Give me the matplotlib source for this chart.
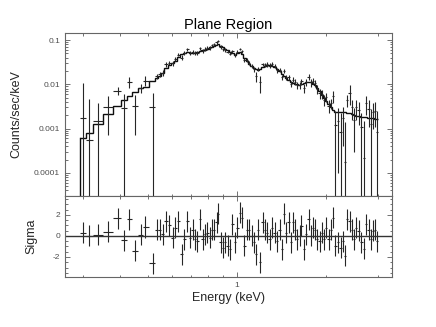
import numpy as np
import matplotlib
matplotlib.use('Agg')
import matplotlib.pyplot as plt
from matplotlib.ticker import FixedLocator, FuncFormatter, MultipleLocator, LogLocator

plt.rcParams['font.family'] = ['Liberation Sans', 'DejaVu Sans']

## channel energies (keV), rate (counts/sec/keV), 1-sigma error, folded model, residual (sigma)
energy = [0.300, 0.315, 0.337, 0.366, 0.394, 0.415, 0.431, 0.452, 0.473, 0.488, 0.518,
          0.534, 0.548, 0.560, 0.574, 0.590, 0.605, 0.616, 0.632, 0.650, 0.663,
          0.678, 0.693, 0.708, 0.721, 0.733, 0.749, 0.765, 0.779, 0.793, 0.810,
          0.825, 0.838, 0.853, 0.864, 0.881, 0.894, 0.911, 0.930, 0.947, 0.964,
          0.984, 1.002, 1.024, 1.037, 1.059, 1.079, 1.098, 1.121, 1.142, 1.160,
          1.181, 1.197, 1.222, 1.244, 1.267,
          1.291, 1.314, 1.342, 1.369, 1.395, 1.420, 1.443, 1.469, 1.497, 1.521,
          1.548, 1.569, 1.601, 1.631, 1.652, 1.687, 1.718, 1.750, 1.777, 1.809,
          1.842, 1.871, 1.907, 1.942, 1.972, 2.007, 2.046, 2.078, 2.115, 2.154,
          2.200, 2.246, 2.287, 2.318, 2.360, 2.410, 2.454, 2.492, 2.538, 2.586,
          2.638, 2.694, 2.744, 2.796, 2.840, 2.891, 2.943, 2.989]

rate = [1.7e-3, 5.5e-4, 1.5e-3, 3.0e-3, 7.2e-3, 2.9e-3, 1.15e-2, 3.2e-3, 8.4e-3, 1.2e-2, 3.0e-3,
        .0152, .0168, .0184, .0282, .0308, .0298, .0366, .0470, .0399, .0504,
        .0612, .0512, .0540, .0504, .0509, .0655, .0577, .0619, .0659, .0668,
        .0756, .0795, .0882, .0948, .0697, .0619, .0596, .0549, .0495, .0554,
        .0447, .0542, .0630, .0551, .0359, .0356, .0304, .0259, .0217, .0150,
        .0225, .0110, .0281, .0276, .0282,
        .0263, .0291, .0259, .0209, .0214, .0144, .0196, .0144, .0144, .0103,
        .0128, .0114, .0094, .00964, .0116, .0082, .0113, .0147, .0110, .0120,
        .0108, .0077, .0062, .0061, .0045, .0052, .0033, .0037, .0054, .0012,
        .0015, .00083, .0017, .00018, .0044, .0064, .0030, .0016, .0030, .0026,
        .0011, .00022, .0037, .0028, .0013, .0024, .0025, .00085]

rate_err = [8.8e-3, 4.1e-3, 2.2e-3, 2.3e-3, 1.6e-3, 3.2e-3, 3.4e-3, 2.5e-3, 2.0e-3, 3.0e-3, 3.3e-3,
            .0021, .0023, .0027, .0035, .0035, .0036, .0037, .0041, .0048, .0052,
            .0054, .0052, .0051, .0052, .0054, .0056, .0060, .0061, .0064, .0068,
            .0071, .0075, .0071, .0065, .0059, .0054, .0050, .0048, .0044, .0041,
            .0038, .0041, .0043, .0039, .0035, .0034, .0029, .0028, .0026, .0040,
            .0025, .0045, .0027, .0028, .0030,
            .0033, .0032, .0030, .0027, .0024, .0022, .0020, .0018, .0017, .0017,
            .0016, .0017, .0017, .0017, .0018, .0020, .0020, .0021, .0021, .0020,
            .0019, .0017, .0016, .0014, .0013, .0012, .0011, .0010, .0016, .0013,
            .0014, .0014, .0013, .0012, .0013, .0030, .0014, .0013, .0014, .0014,
            .0012, .0013, .0017, .0017, .0014, .0014, .0014, .0016]

model = [6.0e-4, 7.8e-4, 1.26e-3, 2.1e-3, 3.2e-3, 4.4e-3, 5.4e-3, 6.8e-3, 8.1e-3, 8.8e-3, 1.18e-2,
         .0139, .0154, .0180, .0233, .0273, .0303, .0336, .0413, .0483, .0520,
         .0536, .0520, .0509, .0520, .0536, .0565, .0595, .0610, .0640, .0678,
         .0713, .0750, .0790, .0812, .0732, .0678, .0626, .0595, .0550, .0509,
         .0470, .0509, .0536, .0483, .0392, .0336, .0287, .0259, .0233, .0222,
         .0210, .0222, .0246, .0259, .0273,
         .0273, .0265, .0250, .0222, .0200, .0171, .0154, .0139, .0122, .0113,
         .0107, .0104, .0099, .00964, .0099, .0107, .0110, .0113, .0110, .0104,
         .00964, .00825, .00705, .00573, .00491, .00420, .00359, .00307, .00263, .00237,
         .00237, .00237, .00237, .00237, .00230, .00225, .00214, .00203, .00193, .00190,
         .00183, .00180, .00178, .00176, .00173, .00170, .00167, .00165]

sigma = [0.3, 0.0, 0.1, 0.4, 1.7, -0.4, 1.6, -1.4, 0.1, 0.85, -2.6,
         0.6, 0.6, 0.15, 1.4, 1.0, -0.15, 0.8, 1.4, -1.75, -0.3,
         1.4, -0.15, 0.6, -0.3, -0.5, 1.6, -0.3, 0.15, 0.3, -0.15,
         0.6, 0.6, 1.3, 2.1, -0.6, -1.1, -0.6, -0.95, -1.25, 1.1,
         -0.6, 0.8, 2.2, 1.75, -0.95, 0.6, 0.6, 0.0, -0.6, -1.75,
         0.6, -2.5, 1.3, 0.6, 0.3,
         -0.3, 0.8, 0.3, -0.5, 0.6, -1.25, 2.1, 0.3, 1.3, -0.6,
         1.3, 0.6, -0.3, 0.0, 0.95, -1.25, 0.15, 1.6, 0.0, 0.8,
         0.6, -0.3, -0.5, 0.3, -0.3, 0.8, -0.3, 0.6, 1.75, -0.95,
         -0.6, -1.1, -0.5, -1.9, 1.6, 1.4, 0.6, -0.3, 0.8, 0.5,
         -0.6, -1.2, 1.1, 0.6, -0.3, 0.5, 0.6, -0.5]

energy = np.array(energy); rate = np.array(rate); rate_err = np.array(rate_err)
model = np.array(model); sigma = np.array(sigma)

## channel boundaries half way (in log) between neighbouring channels
lg = np.log10(energy)
mid = (lg[1:] + lg[:-1]) / 2
e_lo = 10**np.concatenate([[2*lg[0] - mid[0]], mid])
e_hi = 10**np.concatenate([mid, [2*lg[-1] - mid[-1]]])
edges = np.append(e_lo, e_hi[-1])
xerr = [energy - e_lo, e_hi - energy]

ymin, ymax = 3.0e-5, 0.144
low = np.clip(rate - rate_err, ymin*0.1, None)

fig = plt.figure(figsize=(4.36, 3.27), dpi=100)
ax = fig.add_axes([0.149, 0.4006, 0.75, 0.4985])
axr = fig.add_axes([0.149, 0.153, 0.75, 0.2477], sharex=ax)

dark = '0.15'
ax.errorbar(energy, rate, xerr=xerr, yerr=[rate - low, rate_err], fmt='none',
            ecolor=dark, elinewidth=0.8)
ax.stairs(model, edges, baseline=None, color='0.05', lw=1.0)
ax.plot([edges[0], edges[0]], [ymin*0.1, model[0]], color='0.05', lw=1.0)

axr.errorbar(energy, sigma, xerr=xerr, yerr=1.0, fmt='none', ecolor=dark, elinewidth=0.8)
axr.axhline(0, color='0.2', lw=1.0)

ax.set_xscale('log'); ax.set_yscale('log')
ax.set_xlim(0.2612, 3.353)
ax.set_ylim(ymin, ymax)
axr.set_ylim(-3.9, 3.8)

ax.xaxis.set_major_locator(FixedLocator([1]))
ax.xaxis.set_minor_locator(FixedLocator([0.3, 0.4, 0.5, 0.6, 0.7, 0.8, 0.9, 2, 3]))
axr.xaxis.set_major_formatter(FuncFormatter(lambda v, p: '%g' % v))
axr.xaxis.set_minor_formatter(FuncFormatter(lambda v, p: ''))
plt.setp(ax.get_xticklabels(), visible=False)

ax.yaxis.set_major_locator(FixedLocator([1e-4, 1e-3, 1e-2, 1e-1]))
ax.yaxis.set_minor_locator(LogLocator(subs=np.arange(2, 10), numticks=20))
ax.yaxis.set_major_formatter(FuncFormatter(lambda v, p: '%g' % v))
axr.yaxis.set_major_locator(FixedLocator([-2, 0, 2]))
axr.yaxis.set_minor_locator(MultipleLocator(0.5))
axr.yaxis.set_major_formatter(FuncFormatter(lambda v, p: '%d' % v))

for a in (ax, axr):
  a.tick_params(which='both', direction='in', top=True, right=True, width=0.6,
                colors='0.35', labelsize=6, labelcolor='0.3')
  a.tick_params(which='major', length=3.5)
  a.tick_params(which='minor', length=1.8)
  for s in a.spines.values():
    s.set_color('0.4'); s.set_linewidth(0.8)

ax.set_title('Plane Region', fontsize=10.5, pad=3)
ax.set_ylabel('Counts/sec/keV', fontsize=9, color='0.15')
ax.yaxis.set_label_coords(-0.131, 0.5)
axr.set_ylabel('Sigma', fontsize=9, color='0.15')
axr.yaxis.set_label_coords(-0.0856, 0.5)
axr.set_xlabel('Energy (keV)', fontsize=9, color='0.15', labelpad=2)

fig.savefig('out.png', dpi=100)
